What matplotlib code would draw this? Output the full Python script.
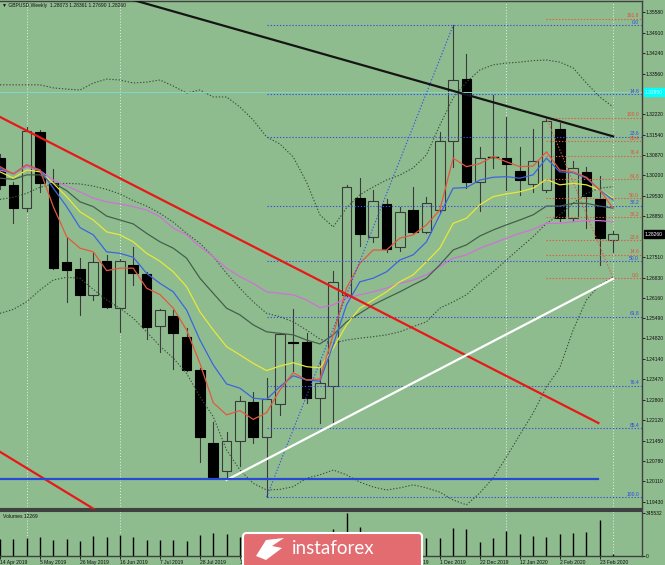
import numpy as np
import matplotlib
matplotlib.use("Agg")
import matplotlib.pyplot as plt
from matplotlib.patches import Rectangle, FancyBboxPatch, Polygon

# weekly GBPUSD bars, 14 Apr 2019 .. 1 Mar 2020
opens = [1.3077, 1.2989, 1.2912, 1.3162, 1.2996, 1.2733, 1.2710, 1.2625, 1.2739, 1.2582,
         1.2725, 1.2694, 1.2523, 1.2555, 1.2488, 1.2378, 1.2136, 1.2046, 1.2145, 1.2274,
         1.2156, 1.2266, 1.2472, 1.2469, 1.2285, 1.2326, 1.2626, 1.2947, 1.2816, 1.2925,
         1.2783, 1.2906, 1.2835, 1.2906, 1.3134, 1.3337, 1.2999, 1.3082, 1.3077, 1.3035,
         1.2992, 1.2972, 1.3172, 1.2879, 1.3033, 1.2942, 1.28073]
highs = [1.3090, 1.2997, 1.3180, 1.3170, 1.3040, 1.2813, 1.2747, 1.2763, 1.2758, 1.2743,
         1.2783, 1.2703, 1.2580, 1.2576, 1.2516, 1.2383, 1.2207, 1.2174, 1.2292, 1.2306,
         1.2351, 1.2501, 1.2578, 1.2501, 1.2410, 1.2705, 1.2989, 1.3013, 1.2972, 1.2941,
         1.2917, 1.2983, 1.2950, 1.3165, 1.3515, 1.3421, 1.3115, 1.3286, 1.3214, 1.3115,
         1.3172, 1.3205, 1.3192, 1.3069, 1.3049, 1.3018, 1.28361]
lows = [1.2975, 1.2864, 1.2904, 1.2967, 1.2710, 1.2603, 1.2560, 1.2609, 1.2582, 1.2505,
        1.2659, 1.2479, 1.2438, 1.2380, 1.2375, 1.2076, 1.2021, 1.2015, 1.2061, 1.2136,
        1.1958, 1.2230, 1.2376, 1.2270, 1.2204, 1.2195, 1.2620, 1.2787, 1.2801, 1.2768,
        1.2770, 1.2828, 1.2829, 1.2895, 1.3049, 1.2978, 1.2904, 1.3045, 1.2972, 1.2956,
        1.2967, 1.2966, 1.2870, 1.2871, 1.2846, 1.2725, 1.27690]
closes = [1.2989, 1.2912, 1.3168, 1.2996, 1.2714, 1.2708, 1.2625, 1.2735, 1.2587, 1.2739,
          1.2697, 1.2521, 1.2576, 1.2500, 1.2378, 1.2156, 1.2024, 1.2145, 1.2277, 1.2158,
          1.2281, 1.2497, 1.2468, 1.2286, 1.2334, 1.2668, 1.2981, 1.2827, 1.2936, 1.2776,
          1.2901, 1.2832, 1.2928, 1.3134, 1.3334, 1.2999, 1.3079, 1.3079, 1.3058, 1.3005,
          1.3069, 1.3201, 1.2879, 1.3044, 1.2952, 1.2813, 1.28260]
volumes = [140000, 136600, 149000, 155000, 129000, 139000, 125000, 160000, 155000, 171000,
           155000, 133000, 133000, 133000, 123000, 171000, 187000, 181000, 155000, 150000,
           175000, 180000, 160000, 170000, 165000, 218000, 345532, 234000, 170000, 160000,
           165000, 150000, 145000, 149000, 229000, 218000, 113000, 145000, 203000, 176000,
           163000, 155000, 176000, 187000, 192000, 290000, 12269]

# indicator lines
ma_red = [1.3049, 1.3025, 1.3055, 1.3038, 1.2917, 1.2818, 1.2780, 1.2768, 1.2706, 1.2714,
          1.2714, 1.2648, 1.2627, 1.2582, 1.2510, 1.2400, 1.2270, 1.2230, 1.2244, 1.2215,
          1.2237, 1.2312, 1.2369, 1.2345, 1.2348, 1.2494, 1.2648, 1.2730, 1.2774, 1.2774,
          1.2813, 1.2824, 1.2857, 1.2906, 1.3077, 1.3049, 1.3059, 1.3082, 1.3065, 1.3049,
          1.3051, 1.3098, 1.3038, 1.3032, 1.3014, 1.2972, 1.2912]
ma_blue = [1.3044, 1.3025, 1.3055, 1.3038, 1.2978, 1.2917, 1.2848, 1.2824, 1.2768, 1.2763,
           1.2750, 1.2697, 1.2664, 1.2636, 1.2576, 1.2477, 1.2395, 1.2332, 1.2318, 1.2285,
           1.2281, 1.2323, 1.2359, 1.2345, 1.2341, 1.2461, 1.2593, 1.2669, 1.2681, 1.2702,
           1.2741, 1.2758, 1.2801, 1.2890, 1.2978, 1.2980, 1.3005, 1.3014, 1.3016, 1.3011,
           1.3022, 1.3077, 1.3032, 1.3029, 1.3011, 1.2972, 1.2939]
ma_yellow = [1.3032, 1.3011, 1.3038, 1.3032, 1.2994, 1.2950, 1.2900, 1.2873, 1.2834, 1.2824,
             1.2801, 1.2763, 1.2737, 1.2702, 1.2653, 1.2570, 1.2510, 1.2455, 1.2428, 1.2400,
             1.2376, 1.2391, 1.2402, 1.2389, 1.2385, 1.2450, 1.2527, 1.2582, 1.2609, 1.2636,
             1.2669, 1.2692, 1.2735, 1.2780, 1.2862, 1.2879, 1.2923, 1.2950, 1.2959, 1.2966,
             1.2978, 1.3007, 1.2989, 1.2994, 1.2989, 1.2972, 1.2945]
ma_green = [1.3011, 1.3007, 1.3022, 1.3022, 1.2996, 1.2970, 1.2933, 1.2917, 1.2886, 1.2873,
            1.2860, 1.2829, 1.2801, 1.2780, 1.2747, 1.2681, 1.2631, 1.2582, 1.2560, 1.2527,
            1.2504, 1.2499, 1.2494, 1.2477, 1.2464, 1.2494, 1.2537, 1.2565, 1.2593, 1.2615,
            1.2636, 1.2659, 1.2681, 1.2725, 1.2774, 1.2791, 1.2820, 1.2840, 1.2857, 1.2873,
            1.2890, 1.2919, 1.2919, 1.2928, 1.2928, 1.2919, 1.2912]
ma_magenta = [1.3038, 1.3027, 1.3049, 1.3036, 1.3005, 1.2985, 1.2966, 1.2945, 1.2933, 1.2926,
              1.2917, 1.2906, 1.2884, 1.2846, 1.2824, 1.2785, 1.2752, 1.2714, 1.2686, 1.2664,
              1.2636, 1.2631, 1.2626, 1.2609, 1.2584, 1.2593, 1.2615, 1.2626, 1.2636, 1.2648,
              1.2664, 1.2675, 1.2692, 1.2719, 1.2747, 1.2758, 1.2780, 1.2796, 1.2813, 1.2829,
              1.2842, 1.2862, 1.2862, 1.2867, 1.2871, 1.2871, 1.2867]
bb_upper = [1.3319, 1.3319, 1.3319, 1.3319, 1.3309, 1.3305, 1.3302, 1.3325, 1.3338, 1.3335,
            1.3325, 1.3328, 1.3335, 1.3315, 1.3292, 1.3302, 1.3279, 1.3279, 1.3246, 1.3203,
            1.3147, 1.3124, 1.3081, 1.2998, 1.2890, 1.2850, 1.2913, 1.2956, 1.2982, 1.3005,
            1.3021, 1.3045, 1.3088, 1.3186, 1.3276, 1.3328, 1.3368, 1.3385, 1.3391, 1.3394,
            1.3399, 1.3401, 1.3394, 1.3375, 1.3325, 1.3279, 1.3246]
bb_mid = [1.2941, 1.2948, 1.2961, 1.2981, 1.2992, 1.2994, 1.2992, 1.2985, 1.2974, 1.2959,
          1.2937, 1.2919, 1.2895, 1.2866, 1.2829, 1.2796, 1.2752, 1.2697, 1.2648, 1.2603,
          1.2565, 1.2554, 1.2537, 1.2510, 1.2480, 1.2466, 1.2477, 1.2483, 1.2488, 1.2494,
          1.2504, 1.2521, 1.2537, 1.2582, 1.2603, 1.2626, 1.2667, 1.2702, 1.2741, 1.2780,
          1.2818, 1.2862, 1.2890, 1.2928, 1.2961, 1.2978, 1.2983]
bb_lower = [1.2565, 1.2578, 1.2603, 1.2642, 1.2675, 1.2684, 1.2681, 1.2644, 1.2609, 1.2582,
            1.2549, 1.2504, 1.2457, 1.2417, 1.2367, 1.2290, 1.2224, 1.2114, 1.2048, 1.2004,
            1.1982, 1.1984, 1.1993, 1.2021, 1.2032, 1.2048, 1.2032, 1.2008, 1.1992, 1.1982,
            1.1989, 1.1999, 1.1989, 1.1975, 1.1949, 1.1933, 1.1972, 1.2022, 1.2091, 1.2164,
            1.2236, 1.2322, 1.2385, 1.2510, 1.2609, 1.2659, 1.2685]

date_labels = ['14 Apr 2019', '5 May 2019', '26 May 2019', '16 Jun 2019', '7 Jul 2019',
               '28 Jul 2019', '18 Aug 2019', '8 Sep 2019', '29 Sep 2019', '20 Oct 2019',
               '10 Nov 2019', '1 Dec 2019', '22 Dec 2019', '12 Jan 2020', '2 Feb 2020',
               '23 Feb 2020']
price_ticks = [1.35580, 1.34910, 1.34240, 1.33560, 1.32220, 1.31540, 1.30870, 1.30200,
               1.29530, 1.28850, 1.27510, 1.26830, 1.26160, 1.25490, 1.24820, 1.24140,
               1.23470, 1.22800, 1.22120, 1.21450, 1.20780, 1.20110, 1.19430]

# drawn objects (bar index, price)
black_line = [(10.0, 1.3599), (46.0, 1.3149)]
red_line = [(0.0, 1.3213), (44.9, 1.2203)]
red_line2 = [(0.0, 1.2108), (10.0, 1.1840)]
white_line = [(17.0, 1.2015), (46.0, 1.2679)]
blue_hline = [(0.0, 1.2018), (44.9, 1.2018)]
cyan_level = 1.3295
sep_bars = [2, 9, 38, 46]

fib_levels = [0.0, 14.6, 23.6, 38.2, 50.0, 61.8, 76.4, 85.4, 100.0]
fib_blue = (20, 1.1959, 34, 1.3515)     # low bar, low, high bar, high
fib_red_levels = [0.0, 14.6, 23.6, 38.2, 50.0, 61.8, 76.4, 85.4, 100.0, 161.8]
fib_red = (46, 1.2681, 41, 1.3210)

plt.rcParams['font.family'] = ['Liberation Sans', 'DejaVu Sans']
FS = 3.6
TXT = '#101010'
BG = '#8fbc8f'
W, H = 665, 565
fig = plt.figure(figsize=(W / 100, H / 100), dpi=100)
fig.patch.set_facecolor(BG)

ax = fig.add_axes([0, (H - 509) / H, 642 / W, 508 / H])
axv = fig.add_axes([0, (H - 556) / H, 642 / W, 45 / H], sharex=ax)
for a in (ax, axv):
    a.set_facecolor(BG)
    for s in a.spines.values():
        s.set_color('#404040')
        s.set_linewidth(1.0)
    a.spines['left'].set_visible(False)
    a.yaxis.tick_right()
    a.tick_params(axis='y', length=2, width=0.6, labelsize=FS, pad=0.8, colors=TXT)
ax.spines['bottom'].set_linewidth(1.5)
axv.spines['top'].set_linewidth(1.5)

n = len(closes)
x = np.arange(n)
ax.set_xlim(0.0225, 48.17)
ax.set_ylim(1.19193, 1.35957)

# separators
for b in sep_bars:
    ax.axvline(b, color='#e8f0e8', lw=0.7, ls=(0, (1, 2)), zorder=1)
    axv.axvline(b, color='#e8f0e8', lw=0.7, ls=(0, (1, 2)), zorder=1)

# candles
for i in range(n):
    o, h, l, c = opens[i], highs[i], lows[i], closes[i]
    ax.plot([i, i], [l, h], color='#3a3a3a', lw=0.8, zorder=2)
    if abs(c - o) < 0.0004:
        ax.plot([i - 0.36, i + 0.36], [o, o], color='black', lw=1.0, zorder=2.2)
    elif c > o:
        ax.add_patch(Rectangle((i - 0.36, o), 0.72, c - o, facecolor=BG,
                               edgecolor='#3a3a3a', lw=0.8, zorder=2.1))
    else:
        ax.add_patch(Rectangle((i - 0.36, c), 0.72, o - c, facecolor='black',
                               edgecolor='black', lw=0.8, zorder=2.1))

# indicators
dot = (0, (1.2, 1.6))
ax.plot(x, bb_upper, color='#3c4c3c', lw=0.8, ls=dot, zorder=3)
ax.plot(x, bb_mid, color='#3c4c3c', lw=0.8, ls=dot, zorder=3)
ax.plot(x, bb_lower, color='#3c4c3c', lw=0.8, ls=dot, zorder=3)
ax.plot(x, ma_magenta, color='#d070d8', lw=0.9, zorder=3)
ax.plot(x, ma_green, color='#44604a', lw=0.9, zorder=3)
ax.plot(x, ma_yellow, color='#e8e83a', lw=0.9, zorder=3)
ax.plot(x, ma_blue, color='#3c64e0', lw=0.9, zorder=3)
ax.plot(x, ma_red, color='#e4583e', lw=0.9, zorder=3)

# trend lines
ax.plot(*zip(*black_line), color='#151515', lw=1.6, zorder=4)
ax.plot(*zip(*red_line), color='#e81818', lw=1.6, zorder=4)
ax.plot(*zip(*red_line2), color='#e81818', lw=1.6, zorder=4)
ax.plot(*zip(*white_line), color='white', lw=1.6, zorder=4)
ax.plot(*zip(*blue_hline), color='#2848d8', lw=1.6, zorder=4)
ax.axhline(cyan_level, color='#7fd8cc', lw=0.7, zorder=3)

# fibonacci
bx0, blo, bx1, bhi = fib_blue
ax.plot([bx0, bx1], [blo, bhi], color='#3a50e0', lw=0.8, ls=dot, zorder=3)
for lv in fib_levels:
    p = bhi - lv / 100 * (bhi - blo)
    ax.plot([bx0, 48.2], [p, p], color='#3a50e0', lw=0.8, ls=dot, zorder=3)
    ax.annotate(f'{lv:.1f}', (47.95, p), xytext=(0, 0.3), textcoords='offset points',
                ha='right', va='bottom', fontsize=FS, color='#2a48e8', zorder=5)
rx0, rlo, rx1, rhi = fib_red
ax.plot([rx1, rx0], [rhi, rlo], color='#e2583e', lw=0.8, ls=dot, zorder=3)
for lv in fib_red_levels:
    p = rlo + lv / 100 * (rhi - rlo)
    ax.plot([rx1, 48.2], [p, p], color='#e2583e', lw=0.8, ls=dot, zorder=3)
    ax.annotate(f'{lv:.1f}', (47.95, p), xytext=(0, 0.3), textcoords='offset points',
                ha='right', va='bottom', fontsize=FS, color='#e0503a', zorder=5)

ax.set_yticks(price_ticks)
ax.set_yticklabels([f'{v:.5f}' for v in price_ticks])
ax.tick_params(axis='x', bottom=False, labelbottom=False)

# price boxes on the axis
def axis_box(price, text, fc, tc):
    ax.annotate(text, (1.0, price), xycoords=('axes fraction', 'data'), xytext=(2.0, 0),
                textcoords='offset points', ha='left', va='center', fontsize=FS, color=tc,
                annotation_clip=False,
                bbox=dict(boxstyle='square,pad=0.25', fc=fc, ec=fc))
axis_box(cyan_level, '1.32950', '#00ffff', '#c8ffff')
axis_box(closes[-1], f'{closes[-1]:.5f}', 'black', 'white')

# volume
axv.vlines(x, 0, volumes, color='black', lw=1.0)
axv.set_ylim(0, 364000)
axv.set_yticks([0, 345532])
axv.set_yticklabels(['0', '345532'])
axv.set_xticks(np.arange(0, n, 3))
axv.set_xticklabels(date_labels, ha='left')
axv.tick_params(axis='x', length=2, width=0.6, labelsize=FS, pad=1, colors=TXT)
axv.text(0.004, 0.93, 'Volumes 12269', transform=axv.transAxes, fontsize=FS,
         va='top', ha='left', color=TXT)

fig.text(2 / W, 1 - 5 / H, '\u25bc GBPUSD,Weekly  1.28073 1.28361 1.27690 1.28260',
         fontsize=FS, va='center', ha='left', color=TXT)

# instaforex banner
bl, bt, br = 243, 533, 422
fig.patches.append(FancyBboxPatch((bl / W, 0.0 - 0.01), (br - bl) / W, (H - bt) / H + 0.01,
                                  boxstyle='round,pad=0,rounding_size=0.006',
                                  transform=fig.transFigure, fc='#e36c70', ec='white',
                                  lw=1.5, zorder=10))
# simple logo mark
logo = [[(256, 556), (266, 540), (284, 538), (272, 546), (282, 548), (266, 560)]]
for poly in logo:
    fig.patches.append(Polygon([(px / W, 1 - py / H) for px, py in poly], closed=True,
                               transform=fig.transFigure, fc='white', ec='none', zorder=11))
fig.text(333 / W, 1 - 549 / H, 'instaforex', fontsize=13.5, color='white', family='Lato',
         ha='center', va='center', zorder=11)

fig.savefig('out.png', dpi=100, facecolor=BG)
